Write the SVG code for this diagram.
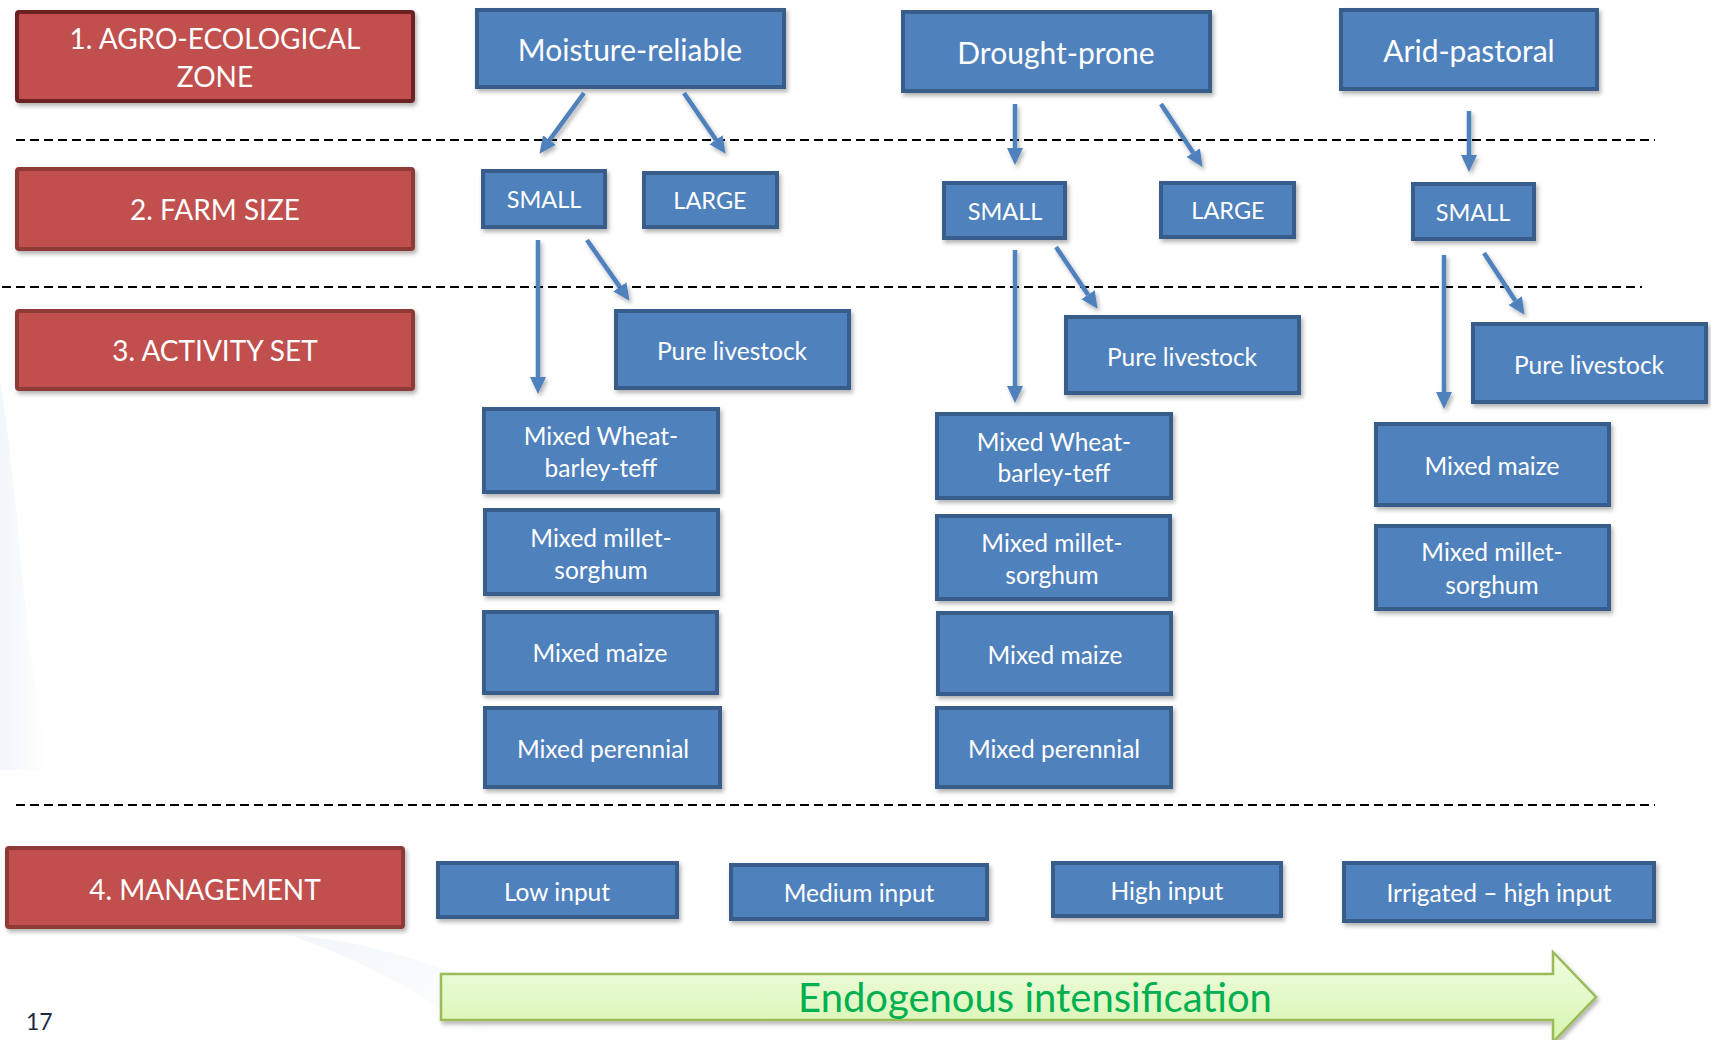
<svg xmlns="http://www.w3.org/2000/svg" width="1711" height="1040" viewBox="0 0 1711 1040">
  <style>
    .lvl rect { fill: #C0504D; stroke: #8E3A38; stroke-width: 4; filter: url(#shadow); }
    .lvl.first rect { stroke: #6B2424; }
    .lvl text { fill: #FFFFFF; font-family: Lato, "Open Sans", sans-serif; font-size: 28px; text-anchor: middle; dominant-baseline: central; }
    .node rect { fill: #4F81BD; stroke: #385D8A; stroke-width: 4; filter: url(#shadow); }
    .node text { fill: #FFFFFF; font-family: Lato, "Open Sans", sans-serif; font-size: 24.5px; text-anchor: middle; dominant-baseline: central; }
    .node.zone text { font-size: 30px; }
    .node.size text { font-size: 23.5px; }
    .divider { stroke: #000000; stroke-width: 2; stroke-dasharray: 9 5; fill: none; }
    .conn line { stroke: #4F81BD; stroke-width: 4.5; marker-end: url(#head); }
  </style>
  <defs>
    <filter id="shadow" x="-10%" y="-10%" width="125%" height="140%">
      <feDropShadow dx="2" dy="3" stdDeviation="2" flood-color="#000" flood-opacity="0.3"/>
    </filter>
    <filter id="arrowShadow" x="-50%" y="-20%" width="200%" height="150%">
      <feDropShadow dx="2" dy="3" stdDeviation="2" flood-color="#000" flood-opacity="0.3"/>
    </filter>
    <marker id="head" markerUnits="userSpaceOnUse" markerWidth="20" markerHeight="18" refX="0" refY="8" orient="auto" viewBox="0 0 20 16">
      <path d="M0,0 L17,8 L0,16 Z" fill="#4F81BD"/>
    </marker>
    <linearGradient id="greenFill" x1="0" y1="0" x2="0" y2="1">
      <stop offset="0" stop-color="#F1FDE2"/>
      <stop offset="1" stop-color="#D6F5AE"/>
    </linearGradient>
    <linearGradient id="haze" x1="0" y1="0" x2="1" y2="0">
      <stop offset="0" stop-color="#E9F1F9" stop-opacity="0.6"/>
      <stop offset="1" stop-color="#E9F1F9" stop-opacity="0"/>
    </linearGradient>
    <linearGradient id="haze2" x1="0" y1="0" x2="1" y2="1">
      <stop offset="0" stop-color="#EDF4FA" stop-opacity="0.7"/>
      <stop offset="1" stop-color="#EDF4FA" stop-opacity="0"/>
    </linearGradient>
  </defs>

  <!-- background with faint slide swooshes -->
  <rect x="0" y="0" width="1711" height="1040" fill="#FFFFFF"/>
  <path d="M0,380 C20,500 22,640 50,770 L0,770 Z" fill="url(#haze)"/>
  <path d="M290,935 C360,940 430,960 520,1000 L480,1040 C420,990 360,960 290,935 Z" fill="url(#haze2)"/>

  <!-- level dividers -->
  <g id="dividers">
    <line class="divider" x1="16" y1="140" x2="1655" y2="140"/>
    <line class="divider" x1="2" y1="287" x2="1642" y2="287"/>
    <line class="divider" x1="16" y1="805" x2="1655" y2="805"/>
  </g>

  <!-- level labels -->
  <g id="lvl-zone" class="lvl first">
    <rect x="17" y="12" width="396" height="89" rx="2"/>
    <text x="215"><tspan x="215" y="38">1. AGRO-ECOLOGICAL</tspan><tspan x="215" y="76">ZONE</tspan></text>
  </g>
  <g id="lvl-farm-size" class="lvl">
    <rect x="17" y="169" width="396" height="80" rx="2"/>
    <text x="215" y="209">2. FARM SIZE</text>
  </g>
  <g id="lvl-activity" class="lvl">
    <rect x="17" y="311" width="396" height="78" rx="2"/>
    <text x="215" y="350">3. ACTIVITY SET</text>
  </g>
  <g id="lvl-management" class="lvl">
    <rect x="7" y="848" width="396" height="79" rx="2"/>
    <text x="205" y="889">4. MANAGEMENT</text>
  </g>

  <!-- zones -->
  <g id="zone-moisture" class="node zone">
    <rect x="477" y="10" width="307" height="77"/>
    <text x="630" y="49">Moisture-reliable</text>
  </g>
  <g id="zone-drought" class="node zone">
    <rect x="903" y="12" width="307" height="79"/>
    <text x="1056" y="52">Drought-prone</text>
  </g>
  <g id="zone-arid" class="node zone">
    <rect x="1341" y="10" width="256" height="79"/>
    <text x="1469" y="50">Arid-pastoral</text>
  </g>

  <!-- farm sizes -->
  <g id="mr-small" class="node size">
    <rect x="483" y="171" width="122" height="56"/>
    <text x="544" y="199">SMALL</text>
  </g>
  <g id="mr-large" class="node size">
    <rect x="644" y="173" width="133" height="54"/>
    <text x="710" y="200">LARGE</text>
  </g>
  <g id="dp-small" class="node size">
    <rect x="944" y="183" width="121" height="55"/>
    <text x="1005" y="211">SMALL</text>
  </g>
  <g id="dp-large" class="node size">
    <rect x="1161" y="183" width="133" height="54"/>
    <text x="1228" y="210">LARGE</text>
  </g>
  <g id="ap-small" class="node size">
    <rect x="1413" y="184" width="121" height="55"/>
    <text x="1473" y="212">SMALL</text>
  </g>

  <!-- activity sets: moisture-reliable -->
  <g id="mr-livestock" class="node">
    <rect x="616" y="311" width="233" height="77"/>
    <text x="732" y="350">Pure livestock</text>
  </g>
  <g id="mr-wheat" class="node">
    <rect x="484" y="409" width="234" height="83"/>
    <text><tspan x="601" y="435">Mixed Wheat-</tspan><tspan x="601" y="467">barley-teff</tspan></text>
  </g>
  <g id="mr-millet" class="node">
    <rect x="485" y="510" width="233" height="84"/>
    <text><tspan x="601" y="537">Mixed millet-</tspan><tspan x="601" y="569">sorghum</tspan></text>
  </g>
  <g id="mr-maize" class="node">
    <rect x="484" y="612" width="233" height="81"/>
    <text x="600" y="652">Mixed maize</text>
  </g>
  <g id="mr-perennial" class="node">
    <rect x="485" y="708" width="235" height="79"/>
    <text x="603" y="748">Mixed perennial</text>
  </g>

  <!-- activity sets: drought-prone -->
  <g id="dp-livestock" class="node">
    <rect x="1066" y="317" width="233" height="76"/>
    <text x="1182" y="356">Pure livestock</text>
  </g>
  <g id="dp-wheat" class="node">
    <rect x="937" y="414" width="234" height="84"/>
    <text><tspan x="1054" y="441">Mixed Wheat-</tspan><tspan x="1054" y="472">barley-teff</tspan></text>
  </g>
  <g id="dp-millet" class="node">
    <rect x="937" y="516" width="233" height="83"/>
    <text><tspan x="1052" y="542">Mixed millet-</tspan><tspan x="1052" y="574">sorghum</tspan></text>
  </g>
  <g id="dp-maize" class="node">
    <rect x="938" y="613" width="233" height="81"/>
    <text x="1055" y="654">Mixed maize</text>
  </g>
  <g id="dp-perennial" class="node">
    <rect x="937" y="708" width="234" height="79"/>
    <text x="1054" y="748">Mixed perennial</text>
  </g>

  <!-- activity sets: arid-pastoral -->
  <g id="ap-livestock" class="node">
    <rect x="1473" y="324" width="233" height="78"/>
    <text x="1589" y="364">Pure livestock</text>
  </g>
  <g id="ap-maize" class="node">
    <rect x="1376" y="424" width="233" height="81"/>
    <text x="1492" y="465">Mixed maize</text>
  </g>
  <g id="ap-millet" class="node">
    <rect x="1376" y="526" width="233" height="83"/>
    <text><tspan x="1492" y="551">Mixed millet-</tspan><tspan x="1492" y="584">sorghum</tspan></text>
  </g>

  <!-- management levels -->
  <g id="mg-low" class="node">
    <rect x="438" y="863" width="239" height="54"/>
    <text x="557" y="891">Low input</text>
  </g>
  <g id="mg-medium" class="node">
    <rect x="731" y="865" width="256" height="54"/>
    <text x="859" y="892">Medium input</text>
  </g>
  <g id="mg-high" class="node">
    <rect x="1053" y="863" width="228" height="53"/>
    <text x="1167" y="890">High input</text>
  </g>
  <g id="mg-irrigated" class="node">
    <rect x="1344" y="863" width="310" height="58"/>
    <text x="1499" y="892">Irrigated – high input</text>
  </g>

  <!-- connectors -->
  <g id="connectors" class="conn" filter="url(#arrowShadow)">
    <line x1="584" y1="93" x2="549.5" y2="140.1"/>
    <line x1="684" y1="93" x2="716" y2="139.8"/>
    <line x1="538" y1="240" x2="538" y2="377"/>
    <line x1="587" y1="240" x2="619.8" y2="286.9"/>
    <line x1="1015" y1="104" x2="1015" y2="148"/>
    <line x1="1161" y1="104" x2="1193.2" y2="152.7"/>
    <line x1="1015" y1="250" x2="1015" y2="386"/>
    <line x1="1056" y1="247" x2="1088.1" y2="294.7"/>
    <line x1="1469" y1="111" x2="1469" y2="155"/>
    <line x1="1444" y1="255" x2="1444" y2="392"/>
    <line x1="1484" y1="253" x2="1515.2" y2="300.6"/>
  </g>

  <!-- intensification arrow -->
  <g id="intensification">
    <path d="M441,974 L1553,974 L1553,952 L1596,997 L1553,1042 L1553,1020 L441,1020 Z" fill="url(#greenFill)" stroke="#9BBB59" stroke-width="2.5" filter="url(#shadow)"/>
    <text x="1035" y="997" fill="#00B050" font-family="Lato, 'Open Sans', sans-serif" font-size="40" text-anchor="middle" dominant-baseline="central">Endogenous intensification</text>
  </g>

  <!-- slide number -->
  <text x="26" y="1030" fill="#1C2A48" font-family="Lato, 'Open Sans', sans-serif" font-size="23">17</text>
</svg>
